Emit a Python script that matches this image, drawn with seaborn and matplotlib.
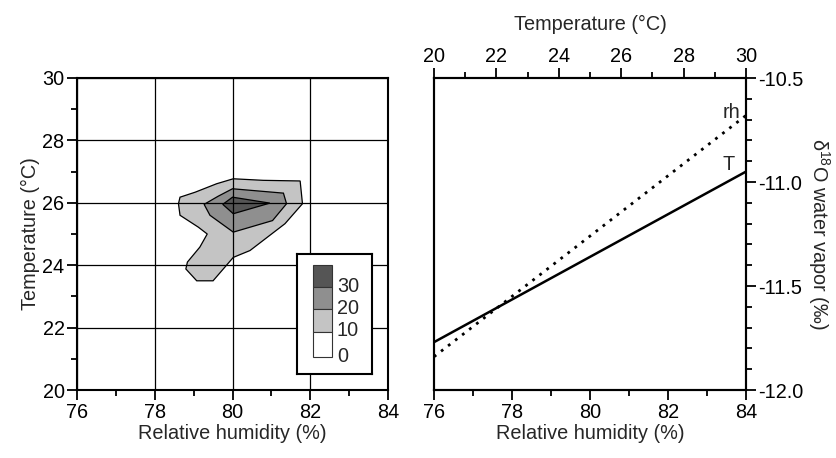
import numpy as np
import pandas as pd
import matplotlib
matplotlib.use("Agg")
import matplotlib.pyplot as plt
from matplotlib.patches import Rectangle
from matplotlib.ticker import MultipleLocator, FormatStrFormatter
import seaborn as sns

sns.set_theme(style="ticks")
plt.rcParams['font.family'] = ['Liberation Sans', 'DejaVu Sans']
plt.rcParams['mathtext.fontset'] = 'custom'
plt.rcParams['mathtext.rm'] = 'Liberation Sans'
plt.rcParams['mathtext.it'] = 'Liberation Sans:italic'
plt.rcParams['axes.unicode_minus'] = False

# ---------------- data ----------------
# contour outlines of frequency (counts) in RH-T space
level10_rh = [78.61, 78.65, 79.04, 79.59, 80.02, 80.79, 81.74, 81.80, 81.35, 80.45,
              80.02, 79.50, 79.08, 78.80, 78.84, 79.16, 79.35, 79.12, 78.65]
level10_t = [25.97, 26.18, 26.34, 26.61, 26.77, 26.72, 26.70, 25.97, 25.33, 24.47,
             24.25, 23.50, 23.50, 23.88, 24.10, 24.58, 25.00, 25.22, 25.60]
level20_rh = [79.27, 79.63, 80.00, 81.31, 81.39, 81.03, 80.02, 79.42]
level20_t = [25.95, 26.21, 26.45, 26.31, 25.97, 25.43, 25.06, 25.60]
level30_rh = [79.75, 80.00, 80.96, 80.02]
level30_t = [25.95, 26.18, 25.99, 25.65]

legend_levels = [30, 20, 10, 0]
level_colors = ['#555555', '#8f8f8f', '#c4c4c4', '#ffffff']

# sensitivity lines
rh_values = [76, 84]
d18o_rh = [-11.84, -10.68]
temp_values = [20, 30]
d18o_t = [-11.77, -10.95]

# ---------------- figure ----------------
W, H = 836, 458
fig = plt.figure(figsize=(W / 100, H / 100), dpi=100)
fs = 14.3

def ax_px(x0, y0, x1, y1):
    return fig.add_axes([x0 / W, 1 - y1 / H, (x1 - x0) / W, (y1 - y0) / H])

# ---- left panel ----
ax1 = ax_px(77, 78, 388, 390)
for xs, ys, col in [(level10_rh, level10_t, level_colors[2]),
                    (level20_rh, level20_t, level_colors[1]),
                    (level30_rh, level30_t, level_colors[0])]:
    ax1.fill(xs, ys, facecolor=col, edgecolor='black', linewidth=0.9, zorder=1)
ax1.set_xlim(76, 84)
ax1.set_ylim(20, 30)
ax1.xaxis.set_major_locator(MultipleLocator(2))
ax1.xaxis.set_minor_locator(MultipleLocator(1))
ax1.yaxis.set_major_locator(MultipleLocator(2))
ax1.yaxis.set_minor_locator(MultipleLocator(1))
ax1.grid(True, which='major', color='black', linewidth=0.9, zorder=2)
ax1.set_axisbelow(False)
ax1.tick_params(which='both', direction='out', colors='black', labelsize=fs,
                width=1.3, top=False, right=False, pad=2)
ax1.tick_params(which='major', length=7)
ax1.tick_params(which='minor', length=4)
for s in ax1.spines.values():
    s.set_linewidth(1.5)
    s.set_color('black')
    s.set_zorder(5)
ax1.set_xlabel('Relative humidity (%)', fontsize=fs, labelpad=2)
ax1.set_ylabel('Temperature (°C)', fontsize=fs, labelpad=2)

# legend box
lg = ax_px(297, 254, 372, 374)
lg.set_xlim(0, 75)
lg.set_ylim(120, 0)
lg.set_xticks([])
lg.set_yticks([])
lg.set_facecolor('white')
for s in lg.spines.values():
    s.set_linewidth(1.5)
    s.set_color('black')
edges = [11, 33, 55, 78, 103]
for i, (lev, col) in enumerate(zip(legend_levels, level_colors)):
    lg.add_patch(Rectangle((16, edges[i]), 19, edges[i + 1] - edges[i],
                           facecolor=col, edgecolor='#333333', linewidth=0.8))
    lg.text(40, edges[i + 1] - 1, str(lev), fontsize=fs, va='center', ha='left')

# ---- right panel ----
ax2 = ax_px(434, 78, 746, 390)
df_rh = pd.DataFrame({'RH': rh_values, 'd18O': d18o_rh})
sns.lineplot(data=df_rh, x='RH', y='d18O', ax=ax2, color='black',
             linewidth=2, linestyle=(0, (1, 2.2)))
ax2.set_xlim(76, 84)
ax2.set_ylim(-12.0, -10.5)
ax2.xaxis.set_major_locator(MultipleLocator(2))
ax2.xaxis.set_minor_locator(MultipleLocator(1))
ax2.yaxis.set_major_locator(MultipleLocator(0.5))
ax2.yaxis.set_minor_locator(MultipleLocator(0.1))
ax2.yaxis.set_major_formatter(FormatStrFormatter('%.1f'))
ax2.yaxis.tick_right()
ax2.yaxis.set_label_position('right')
ax2.tick_params(which='both', direction='out', colors='black', labelsize=fs,
                width=1.3, left=False, top=False, pad=2)
ax2.tick_params(which='major', length=7)
ax2.tick_params(which='minor', length=4)
ax2.set_xlabel('Relative humidity (%)', fontsize=fs, labelpad=2)
ax2.set_ylabel(r'$\mathregular{\delta^{18}}$O water vapor (‰)', fontsize=fs,
               rotation=-90, labelpad=20)
ax2.text(83.85, -10.71, 'rh', fontsize=fs, ha='right', va='bottom')
ax2.text(83.7, -10.96, 'T', fontsize=fs, ha='right', va='bottom')

ax3 = ax2.twiny()
df_t = pd.DataFrame({'T': temp_values, 'd18O': d18o_t})
sns.lineplot(data=df_t, x='T', y='d18O', ax=ax3, color='black', linewidth=1.8)
ax3.set_xlim(20, 30)
ax3.set_ylim(-12.0, -10.5)
ax3.xaxis.set_major_locator(MultipleLocator(2))
ax3.xaxis.set_minor_locator(MultipleLocator(1))
ax3.tick_params(which='both', direction='out', colors='black', labelsize=fs,
                width=1.3, pad=2)
ax3.tick_params(which='major', length=7)
ax3.tick_params(which='minor', length=4)
ax3.set_xlabel('Temperature (°C)', fontsize=fs, labelpad=12)
ax3.set_ylabel('')
for a in (ax2, ax3):
    for s in a.spines.values():
        s.set_linewidth(1.5)
        s.set_color('black')
    a.grid(False)

fig.savefig('out.png', dpi=100)
